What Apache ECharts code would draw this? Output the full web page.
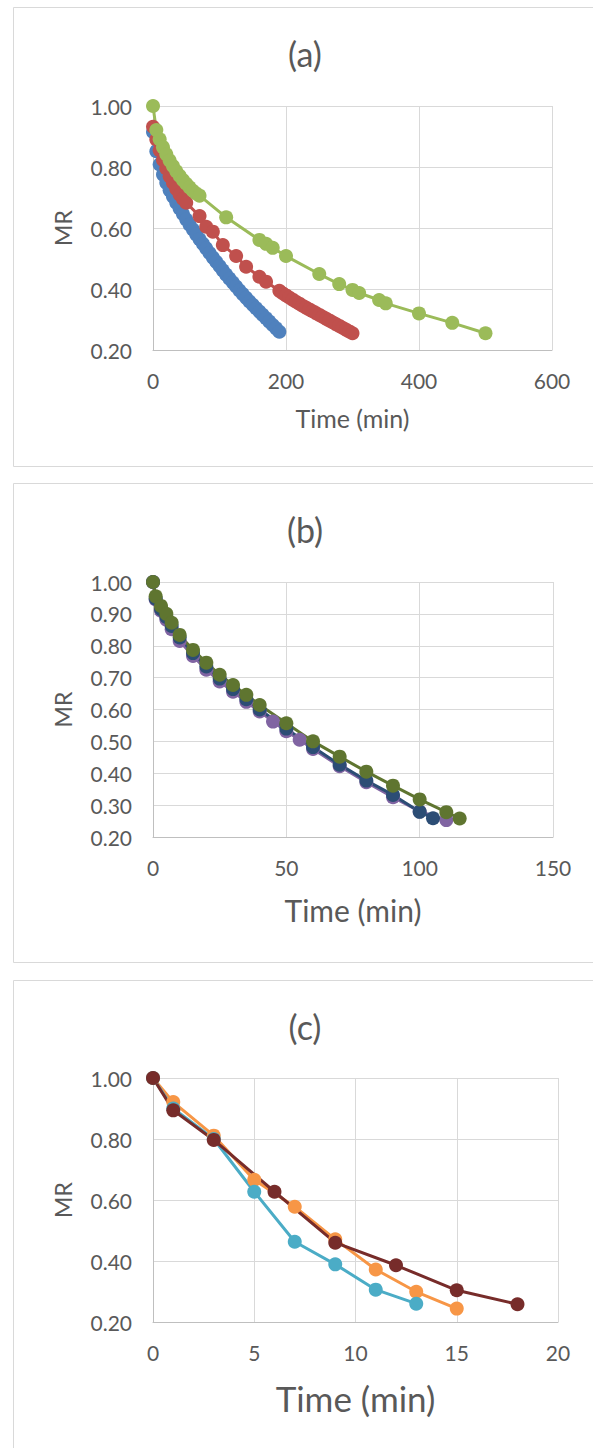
<!DOCTYPE html>
<html>
<head>
<meta charset="utf-8">
<script src="https://cdn.jsdelivr.net/npm/echarts@6/dist/echarts.min.js"></script>
<style>
html,body{margin:0;padding:0;background:#fff;}
#chart{width:593px;height:1448px;}
</style>
</head>
<body>
<div id="chart"></div>
<script>
// ---------- Panel (a) ----------
const aTimeBlue = [0,5,10,15,20,25,30,35,40,45,50,55,60,65,70,75,80,85,90,95,100,105,110,115,120,125,130,135,140,145,150,155,160,165,170,175,180,185,190];
const aMRBlue   = [0.915,0.852,0.808,0.775,0.748,0.724,0.703,0.683,0.664,0.646,0.628,0.611,0.595,0.579,0.563,0.548,0.533,0.518,0.503,0.489,0.475,0.461,0.447,0.434,0.421,0.408,0.395,0.383,0.371,0.359,0.348,0.337,0.326,0.315,0.304,0.293,0.282,0.271,0.260];
const aTimeRed  = [0,5,10,15,20,25,30,35,40,45,50,70,80,90,105,125,140,160,170,190,195,200,205,210,215,220,225,230,235,240,245,250,255,260,265,270,275,280,285,290,295,300];
const aMRRed    = [0.932,0.890,0.855,0.823,0.795,0.770,0.748,0.728,0.710,0.695,0.683,0.639,0.604,0.588,0.544,0.508,0.473,0.440,0.424,0.394,0.386,0.379,0.372,0.365,0.358,0.352,0.345,0.339,0.333,0.327,0.321,0.315,0.309,0.303,0.297,0.291,0.285,0.279,0.273,0.267,0.261,0.255];
const aTimeGreen= [0,5,10,15,20,25,30,35,40,45,50,55,60,65,70,110,160,170,180,200,250,280,300,310,340,350,400,450,500];
const aMRGreen  = [1.000,0.921,0.891,0.865,0.842,0.821,0.803,0.786,0.771,0.757,0.745,0.733,0.722,0.713,0.706,0.635,0.561,0.548,0.535,0.508,0.449,0.416,0.397,0.387,0.364,0.353,0.320,0.289,0.255];

// ---------- Panel (b) ----------
const bTimePurple = [0,1,3,5,7,10,15,20,25,30,35,40,45,50,55,60,70,80,90,100,110];
const bMRPurple   = [1.000,0.945,0.910,0.882,0.852,0.815,0.768,0.725,0.688,0.656,0.624,0.594,0.562,0.532,0.505,0.476,0.422,0.372,0.325,0.280,0.253];
const bTimeNavy   = [0,1,3,5,7,10,15,20,25,30,35,40,50,60,70,80,90,100,105];
const bMRNavy     = [1.000,0.948,0.915,0.890,0.862,0.826,0.777,0.735,0.697,0.664,0.632,0.600,0.540,0.482,0.427,0.377,0.332,0.279,0.259];
const bTimeOlive  = [0,1,3,5,7,10,15,20,25,30,35,40,50,60,70,80,90,100,110,115];
const bMROlive    = [1.000,0.955,0.925,0.900,0.872,0.834,0.787,0.747,0.709,0.677,0.646,0.614,0.557,0.500,0.452,0.405,0.361,0.318,0.278,0.258];

// ---------- Panel (c) ----------
const cTimeOrange = [0,1,3,5,7,9,11,13,15];
const cMROrange   = [1.000,0.921,0.811,0.666,0.578,0.471,0.372,0.299,0.244];
const cTimeTeal   = [0,1,3,5,7,9,11,13];
const cMRTeal     = [1.000,0.900,0.800,0.627,0.463,0.389,0.306,0.260];
const cTimeBrown  = [0,1,3,6,9,12,15,18];
const cMRBrown    = [1.000,0.894,0.797,0.627,0.460,0.386,0.304,0.258];

// ticks / labels
const panelTitles = ['(a)','(b)','(c)'];
const xName = 'Time (min)';
const yName = 'MR';

const FONT = 'Lato, "Open Sans", sans-serif';
const TXT = '#595959';
const zip = (xs, ys) => xs.map((x, i) => [x, ys[i]]);

const chart = echarts.init(document.getElementById('chart'), null, {renderer: 'svg'});

function xAxis(gridIndex, max, interval, nameSize, nameGap) {
  return {
    type: 'value', gridIndex, min: 0, max, interval,
    name: xName, nameLocation: 'middle', nameGap,
    nameTextStyle: {fontFamily: FONT, fontSize: nameSize, color: TXT},
    axisLine: {show: true, lineStyle: {color: '#BFBFBF', width: 1}},
    axisTick: {show: false},
    axisLabel: {fontFamily: FONT, fontSize: 21, color: TXT, margin: 20},
    splitLine: {show: true, lineStyle: {color: '#D9D9D9', width: 1}}
  };
}
function yAxis(gridIndex, interval) {
  return {
    type: 'value', gridIndex, min: 0.2, max: 1.0, interval,
    name: yName, nameLocation: 'middle', nameRotate: 90, nameGap: 79,
    nameTextStyle: {fontFamily: FONT, fontSize: 23, color: TXT},
    axisLine: {show: true, lineStyle: {color: '#BFBFBF', width: 1}},
    axisTick: {show: false},
    axisLabel: {fontFamily: FONT, fontSize: 21, color: TXT, margin: 21,
      formatter: v => v.toFixed(2)},
    splitLine: {show: true, lineStyle: {color: '#D9D9D9', width: 1}}
  };
}
function series(idx, xs, ys, color) {
  return {
    type: 'line', xAxisIndex: idx, yAxisIndex: idx,
    data: zip(xs, ys),
    symbol: 'circle', symbolSize: 14, showSymbol: true,
    lineStyle: {color, width: 3},
    itemStyle: {color},
    emphasis: {disabled: true},
    animation: false
  };
}

const boxes = [
  {y: 7, h: 459},
  {y: 483, h: 479},
  {y: 980, h: 480}
];
const titleY = [53, 529, 1026];

const graphic = [];
boxes.forEach(b => graphic.push({
  type: 'rect', silent: true, z: -1,
  shape: {x: 13.5, y: b.y + 0.5, width: 600, height: b.h},
  style: {fill: 'none', stroke: '#D9D9D9', lineWidth: 1}
}));
panelTitles.forEach((t, i) => graphic.push({
  type: 'text', silent: true,
  x: 305, y: titleY[i],
  style: {text: t, font: '34px ' + FONT, fill: TXT, align: 'center', verticalAlign: 'middle'}
}));

chart.setOption({
  animation: false,
  backgroundColor: '#fff',
  grid: [
    {left: 153, top: 106, width: 399, height: 244},
    {left: 153, top: 582, width: 400, height: 255},
    {left: 153, top: 1078, width: 405, height: 244}
  ],
  xAxis: [
    xAxis(0, 600, 200, 25, 55),
    xAxis(1, 150, 50, 30, 58),
    xAxis(2, 20, 5, 35, 58)
  ],
  yAxis: [
    yAxis(0, 0.2),
    yAxis(1, 0.1),
    yAxis(2, 0.2)
  ],
  graphic,
  series: [
    series(0, aTimeBlue, aMRBlue, '#4F81BD'),
    series(0, aTimeRed, aMRRed, '#C0504D'),
    series(0, aTimeGreen, aMRGreen, '#9BBB59'),
    series(1, bTimePurple, bMRPurple, '#8064A2'),
    series(1, bTimeNavy, bMRNavy, '#2C4D75'),
    series(1, bTimeOlive, bMROlive, '#5F7530'),
    series(2, cTimeOrange, cMROrange, '#F79646'),
    series(2, cTimeTeal, cMRTeal, '#4BACC6'),
    series(2, cTimeBrown, cMRBrown, '#772C2A')
  ]
});
</script>
</body>
</html>
